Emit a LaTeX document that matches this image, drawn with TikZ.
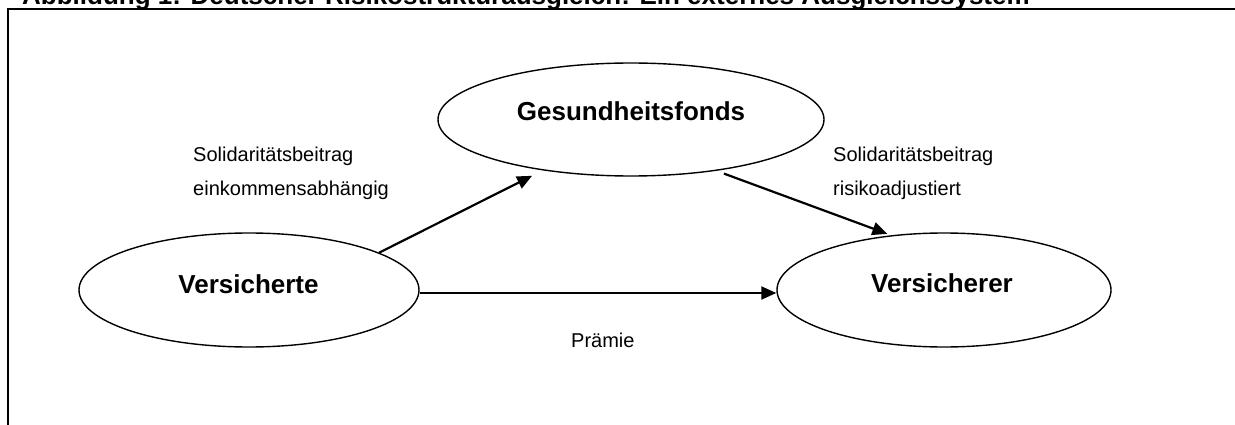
\documentclass[tikz,border=0pt]{standalone}
\usepackage{fontspec}
\setmainfont{Liberation Sans}
\usetikzlibrary{shapes.geometric,arrows.meta}

\tikzset{
  ell/.style={draw, ellipse, line width=1.4pt, inner sep=0pt},
  title/.style={font=\fontsize{26}{30}\selectfont\bfseries, inner sep=0pt, anchor=base west},
  bigtext/.style={font=\fontsize{26}{30}\selectfont\bfseries, inner sep=0pt, anchor=base},
  lbl/.style={font=\fontsize{20}{24}\selectfont, inner sep=0pt, anchor=base west},
  flow/.style={line width=2.2pt, -{Triangle[length=15pt,width=13pt]}},
  frame/.style={line width=2pt, line join=miter}
}

\begin{document}
\begin{tikzpicture}[x=1pt, y=-1pt]
  \useasboundingbox (0,0) rectangle (1235,425);

  % figure caption and frame
  \node[title] (cap) at (22,5) {Abbildung 1: Deutscher Risikostrukturausgleich: Ein externes Ausgleichssystem};
  \coordinate (fbl) at (7.5,426);
  \coordinate (ftl) at (7.5,9.5);
  \coordinate (ftr) at (1236,9.5);
  \draw[frame] (fbl) -- (ftl) -- (ftr);

  % ellipses
  \node[ell, minimum width=340pt, minimum height=114pt] (V) at (249,290) {};
  \node[ell, minimum width=334pt, minimum height=114pt] (R) at (944,290) {};
  \node[ell, minimum width=386pt, minimum height=113pt] (G) at (631,119.5) {};

  % ellipse captions
  \node[bigtext] (Vt) at (248.5,293) {Versicherte};
  \node[bigtext] (Rt) at (942,292) {Versicherer};
  \node[bigtext] (Gt) at (631,121) {Gesundheitsfonds};

  % flows
  \draw[flow, shorten >=12pt] (V.16) -- (G.210);
  \draw[flow, shorten <=8pt, shorten >=4pt] (G.-31.6) -- (R.134.5);
  \draw[flow] ([yshift=-3pt]V.east) -- ([yshift=-3pt]R.west);

  % flow labels
  \node[lbl] (l1) at (193,162) {Solidaritätsbeitrag};
  \node[lbl] (l2) at (193,196) {einkommensabhängig};
  \node[lbl] (l3) at (833,162) {Solidaritätsbeitrag};
  \node[lbl] (l4) at (833,196) {risikoadjustiert};
  \node[lbl] (l5) at (571,347) {Prämie};
\end{tikzpicture}
\end{document}
